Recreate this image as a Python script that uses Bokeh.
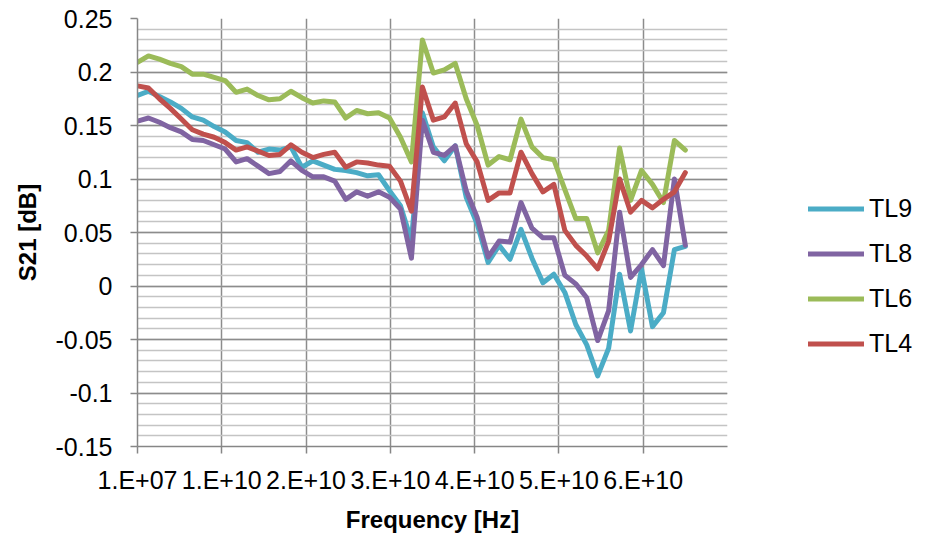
from bokeh.plotting import figure
from bokeh.models import Range1d, FixedTicker, Legend, LegendItem
from bokeh.embed import file_html
from bokeh.resources import INLINE

# Frequency sweep (GHz) - axis shows Hz in Excel scientific format
freq_ghz = [0.01, 1.31, 2.61, 3.91, 5.21, 6.51, 7.81, 9.11, 10.41, 11.71,
            13.01, 14.31, 15.61, 16.91, 18.21, 19.51, 20.81, 22.11, 23.41, 24.71,
            26.01, 27.31, 28.61, 29.91, 31.21, 32.51, 33.81, 35.11, 36.41, 37.71,
            39.01, 40.31, 41.61, 42.91, 44.21, 45.51, 46.81, 48.11, 49.41, 50.71,
            52.01, 53.31, 54.61, 55.91, 57.21, 58.51, 59.81, 61.11, 62.41, 63.71,
            65.01]

tl9 = [0.178, 0.182, 0.177, 0.172, 0.166, 0.158, 0.155, 0.149, 0.144, 0.136,
       0.134, 0.125, 0.128, 0.127, 0.130, 0.111, 0.117, 0.113, 0.109, 0.108,
       0.106, 0.103, 0.104, 0.089, 0.075, 0.042, 0.162, 0.130, 0.117, 0.131,
       0.083, 0.058, 0.022, 0.038, 0.025, 0.053, 0.026, 0.003, 0.011, -0.006,
       -0.036, -0.055, -0.084, -0.058, 0.011, -0.042, 0.016, -0.038, -0.025, 0.034,
       0.037]

tl8 = [0.154, 0.157, 0.153, 0.148, 0.144, 0.137, 0.136, 0.132, 0.128, 0.116,
       0.119, 0.112, 0.105, 0.107, 0.117, 0.108, 0.102, 0.102, 0.098, 0.081,
       0.088, 0.084, 0.088, 0.083, 0.072, 0.026, 0.155, 0.125, 0.122, 0.131,
       0.089, 0.064, 0.027, 0.042, 0.041, 0.078, 0.054, 0.045, 0.045, 0.010,
       0.002, -0.011, -0.051, -0.023, 0.069, 0.008, 0.020, 0.034, 0.019, 0.100,
       0.038]

tl6 = [0.209, 0.215, 0.212, 0.208, 0.205, 0.198, 0.198, 0.195, 0.192, 0.181,
       0.184, 0.178, 0.174, 0.175, 0.182, 0.176, 0.171, 0.173, 0.172, 0.157,
       0.164, 0.161, 0.162, 0.157, 0.139, 0.116, 0.230, 0.199, 0.202, 0.208,
       0.175, 0.150, 0.113, 0.121, 0.118, 0.156, 0.130, 0.120, 0.118, 0.090,
       0.063, 0.063, 0.031, 0.052, 0.129, 0.080, 0.108, 0.095, 0.078, 0.136,
       0.127]

tl4 = [0.187, 0.185, 0.175, 0.166, 0.156, 0.146, 0.142, 0.139, 0.134, 0.127,
       0.130, 0.126, 0.122, 0.123, 0.132, 0.125, 0.120, 0.123, 0.125, 0.111,
       0.116, 0.115, 0.113, 0.112, 0.098, 0.070, 0.186, 0.155, 0.158, 0.171,
       0.133, 0.116, 0.080, 0.087, 0.087, 0.125, 0.105, 0.088, 0.095, 0.052,
       0.038, 0.028, 0.016, 0.042, 0.100, 0.069, 0.080, 0.073, 0.081, 0.088,
       0.106]

series_names = ["TL9", "TL8", "TL6", "TL4"]
series_values = [tl9, tl8, tl6, tl4]
series_colors = ["#4BACC6", "#8064A2", "#9BBB59", "#C0504D"]

x_ticks = [0.01, 10.01, 20.01, 30.01, 40.01, 50.01, 60.01]
x_tick_labels = ["1.E+07", "1.E+10", "2.E+10", "3.E+10", "4.E+10", "5.E+10", "6.E+10"]
y_ticks = [-0.15, -0.1, -0.05, 0.0, 0.05, 0.1, 0.15, 0.2, 0.25]
y_tick_labels = ["-0.15", "-0.1", "-0.05", "0", "0.05", "0.1", "0.15", "0.2", "0.25"]
y_minor = [round(-0.15 + 0.01 * i, 2) for i in range(41)]

FONT = "Liberation Sans"

p = figure(frame_width=590, frame_height=428, output_backend="svg",
           toolbar_location=None,
           x_range=Range1d(0.01, 70.01), y_range=Range1d(-0.15, 0.25),
           min_border_left=137, min_border_right=190, min_border_top=18,
           min_border_bottom=80)
p.outline_line_color = None
p.background_fill_color = "white"
p.border_fill_color = "white"

xt = FixedTicker(ticks=x_ticks, minor_ticks=[])
yt = FixedTicker(ticks=y_ticks, minor_ticks=y_minor)
p.xaxis.ticker = xt
p.yaxis.ticker = yt
p.xgrid.ticker = xt
p.ygrid.ticker = yt

p.xaxis.major_label_overrides = dict(zip(x_ticks, x_tick_labels))
p.yaxis.major_label_overrides = dict(zip(y_ticks, y_tick_labels))

for ax in (p.xaxis[0], p.yaxis[0]):
    ax.axis_line_color = "#868686"
    ax.axis_line_width = 1.5
    ax.major_tick_line_color = "#868686"
    ax.major_tick_line_width = 1.5
    ax.major_tick_in = 0
    ax.major_tick_out = 7
    ax.minor_tick_line_color = None
    ax.major_label_text_font = FONT
    ax.major_label_text_font_size = "25px"
    ax.major_label_text_color = "#000000"
    ax.axis_label_text_font = FONT
    ax.axis_label_text_font_size = "24px"
    ax.axis_label_text_font_style = "bold"
    ax.axis_label_text_color = "#000000"

p.xaxis.axis_label = "Frequency [Hz]"
p.yaxis.axis_label = "S21 [dB]"
p.xaxis.major_label_standoff = 12
p.xaxis.axis_label_standoff = 9
p.yaxis.major_label_standoff = 18
p.yaxis.axis_label_standoff = 12

p.xgrid.grid_line_color = "#8c8c8c"
p.xgrid.grid_line_width = 1.5
p.ygrid.grid_line_color = "#8c8c8c"
p.ygrid.grid_line_width = 1.5
p.ygrid.minor_grid_line_color = "#c4c4c4"
p.ygrid.minor_grid_line_width = 1.5

renderers = []
for name, vals, col in zip(series_names, series_values, series_colors):
    r = p.line(freq_ghz, vals, line_color=col, line_width=5,
               line_join="round", line_cap="round")
    renderers.append(r)

legend = Legend(items=[LegendItem(label=n, renderers=[r])
                       for n, r in zip(series_names, renderers)],
                location=(81, 88), orientation="vertical",
                border_line_color=None, background_fill_alpha=0,
                glyph_width=56, glyph_height=29, label_height=29,
                spacing=16, label_standoff=5, padding=0, margin=0,
                label_text_font=FONT, label_text_font_size="25px",
                label_text_color="#000000")
p.add_layout(legend, "right")

open("out.html", "w").write(file_html(p, INLINE))
